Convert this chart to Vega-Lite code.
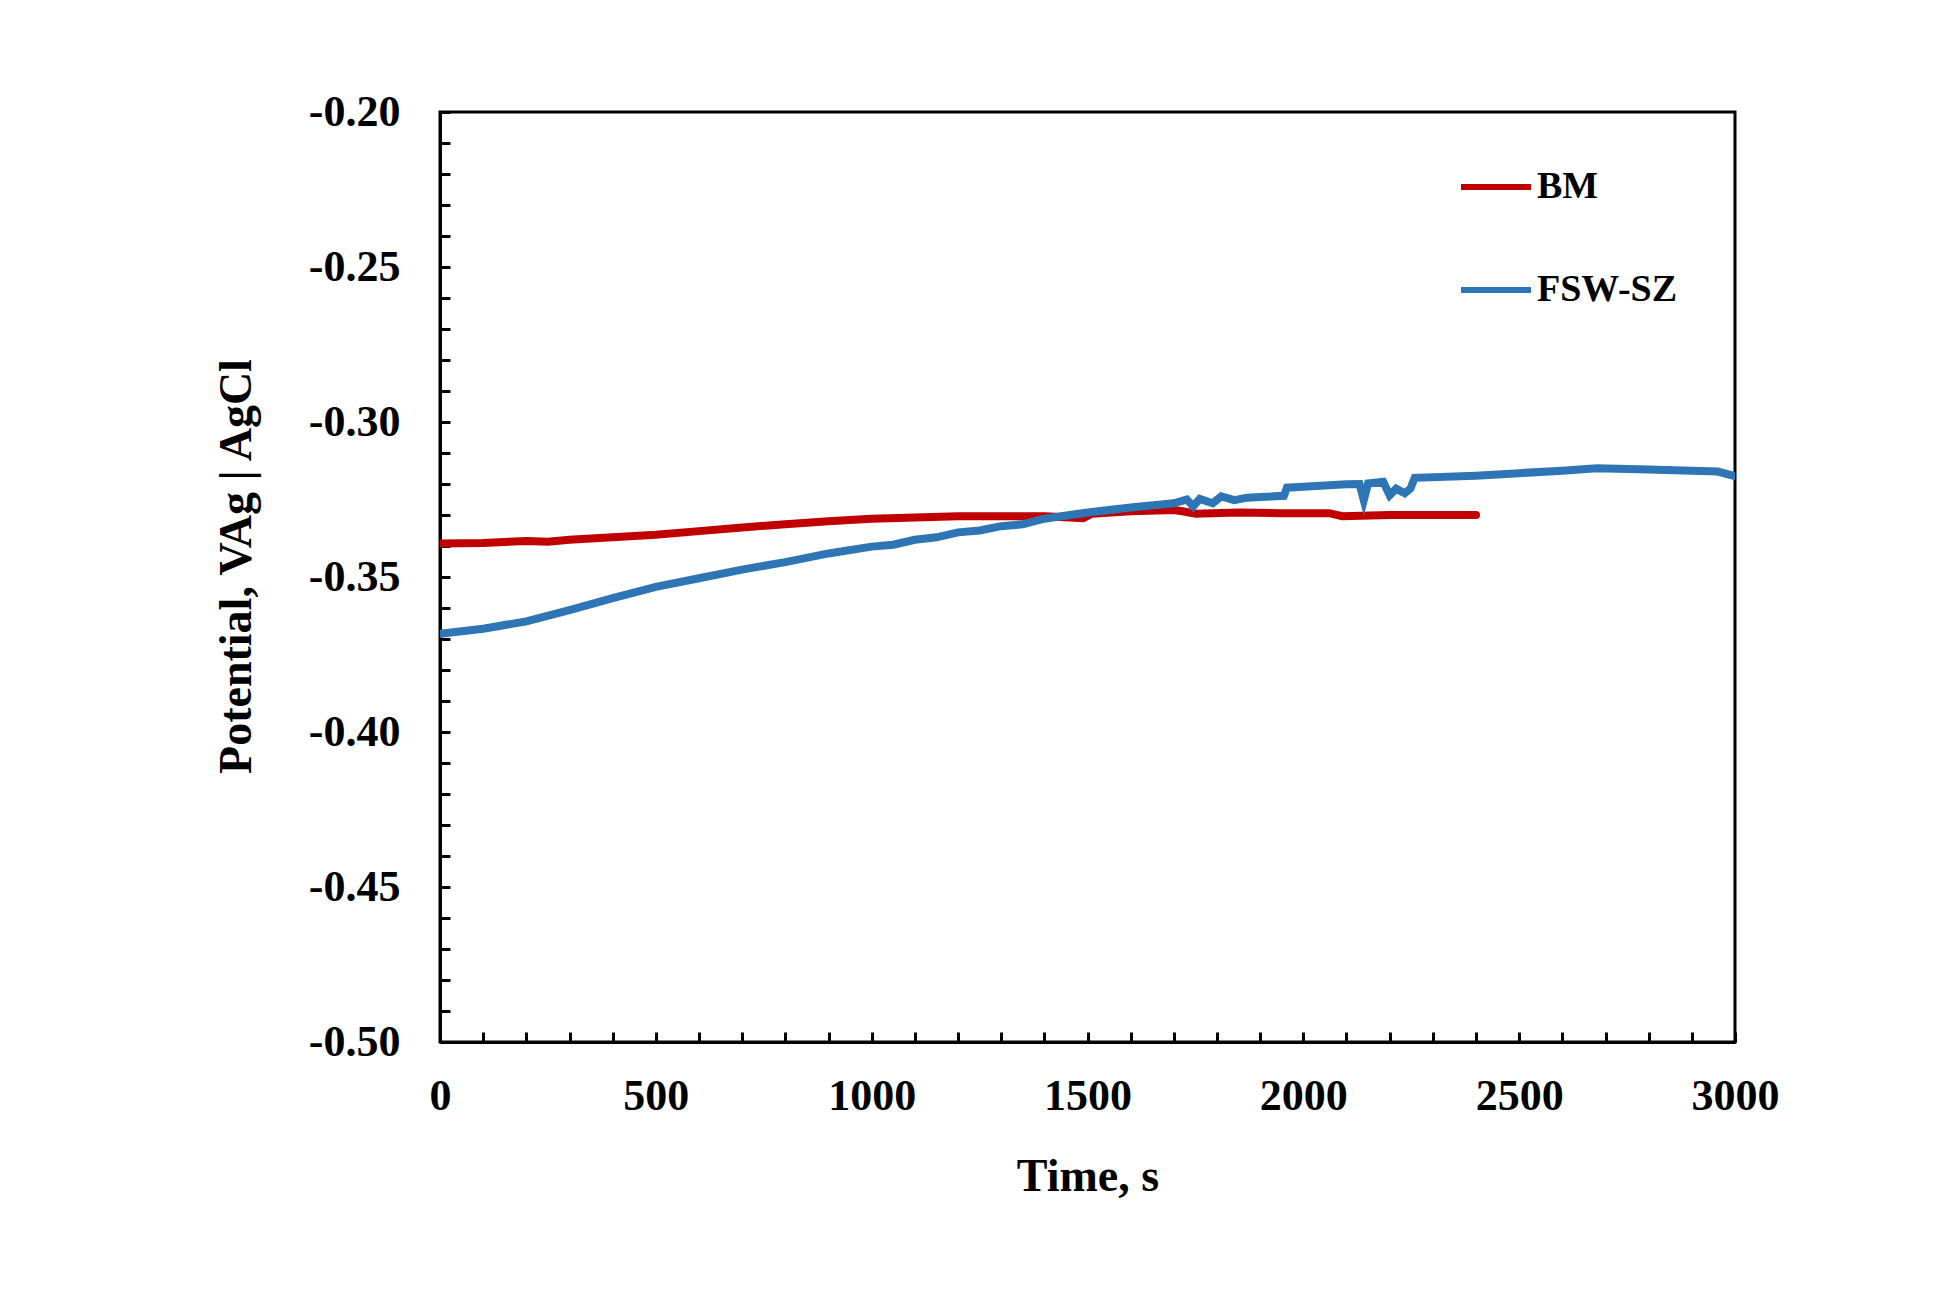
{
  "$schema": "https://vega.github.io/schema/vega-lite/v6.json",
  "width": 1295,
  "height": 930,
  "autosize": {"type": "none"},
  "padding": {"left": 440, "top": 112, "right": 200, "bottom": 252},
  "background": "white",
  "config": {
    "view": {"stroke": "black", "strokeWidth": 3},
    "font": "Liberation Serif",
    "axis": {
      "domainColor": "black", "domainWidth": 3, "tickColor": "black", "tickWidth": 3,
      "grid": false, "labelFont": "Liberation Serif", "labelFontWeight": "bold", "labelFontSize": 44,
      "labelColor": "black", "titleFont": "Liberation Serif", "titleFontWeight": "bold",
      "titleFontSize": 46, "titleColor": "black"
    }
  },
  "data": {"values": [
    {"s":"BM","t":0,"v":-0.3392},{"s":"BM","t":100,"v":-0.3390},{"s":"BM","t":200,"v":-0.3384},{"s":"BM","t":250,"v":-0.3386},{"s":"BM","t":300,"v":-0.3380},{"s":"BM","t":400,"v":-0.3372},{"s":"BM","t":500,"v":-0.3364},{"s":"BM","t":600,"v":-0.3352},{"s":"BM","t":700,"v":-0.3340},{"s":"BM","t":800,"v":-0.3330},{"s":"BM","t":900,"v":-0.3320},{"s":"BM","t":1000,"v":-0.3312},{"s":"BM","t":1100,"v":-0.3308},{"s":"BM","t":1200,"v":-0.3304},{"s":"BM","t":1300,"v":-0.3304},{"s":"BM","t":1400,"v":-0.3304},{"s":"BM","t":1490,"v":-0.3310},{"s":"BM","t":1510,"v":-0.3296},{"s":"BM","t":1600,"v":-0.3288},{"s":"BM","t":1700,"v":-0.3284},{"s":"BM","t":1720,"v":-0.3288},{"s":"BM","t":1750,"v":-0.3296},{"s":"BM","t":1850,"v":-0.3292},{"s":"BM","t":1950,"v":-0.3294},{"s":"BM","t":2060,"v":-0.3294},{"s":"BM","t":2090,"v":-0.3304},{"s":"BM","t":2200,"v":-0.3300},{"s":"BM","t":2300,"v":-0.3300},{"s":"BM","t":2400,"v":-0.3300},
    {"s":"FSW-SZ","t":0,"v":-0.3683},{"s":"FSW-SZ","t":100,"v":-0.3667},{"s":"FSW-SZ","t":200,"v":-0.3643},{"s":"FSW-SZ","t":300,"v":-0.3607},{"s":"FSW-SZ","t":400,"v":-0.3568},{"s":"FSW-SZ","t":500,"v":-0.3532},{"s":"FSW-SZ","t":600,"v":-0.3504},{"s":"FSW-SZ","t":700,"v":-0.3476},{"s":"FSW-SZ","t":800,"v":-0.3452},{"s":"FSW-SZ","t":900,"v":-0.3424},{"s":"FSW-SZ","t":1000,"v":-0.3402},{"s":"FSW-SZ","t":1050,"v":-0.3396},{"s":"FSW-SZ","t":1100,"v":-0.3380},{"s":"FSW-SZ","t":1150,"v":-0.3372},{"s":"FSW-SZ","t":1200,"v":-0.3356},{"s":"FSW-SZ","t":1250,"v":-0.3350},{"s":"FSW-SZ","t":1300,"v":-0.3336},{"s":"FSW-SZ","t":1350,"v":-0.3330},{"s":"FSW-SZ","t":1400,"v":-0.3312},{"s":"FSW-SZ","t":1500,"v":-0.3292},{"s":"FSW-SZ","t":1600,"v":-0.3276},{"s":"FSW-SZ","t":1700,"v":-0.3262},{"s":"FSW-SZ","t":1730,"v":-0.3250},{"s":"FSW-SZ","t":1745,"v":-0.3272},{"s":"FSW-SZ","t":1760,"v":-0.3248},{"s":"FSW-SZ","t":1790,"v":-0.3262},{"s":"FSW-SZ","t":1810,"v":-0.3240},{"s":"FSW-SZ","t":1840,"v":-0.3252},{"s":"FSW-SZ","t":1870,"v":-0.3244},{"s":"FSW-SZ","t":1900,"v":-0.3242},{"s":"FSW-SZ","t":1955,"v":-0.3238},{"s":"FSW-SZ","t":1962,"v":-0.3212},{"s":"FSW-SZ","t":2000,"v":-0.3209},{"s":"FSW-SZ","t":2100,"v":-0.3201},{"s":"FSW-SZ","t":2130,"v":-0.3200},{"s":"FSW-SZ","t":2140,"v":-0.3252},{"s":"FSW-SZ","t":2150,"v":-0.3198},{"s":"FSW-SZ","t":2185,"v":-0.3193},{"s":"FSW-SZ","t":2200,"v":-0.3236},{"s":"FSW-SZ","t":2215,"v":-0.3215},{"s":"FSW-SZ","t":2235,"v":-0.3230},{"s":"FSW-SZ","t":2248,"v":-0.3215},{"s":"FSW-SZ","t":2258,"v":-0.3180},{"s":"FSW-SZ","t":2400,"v":-0.3173},{"s":"FSW-SZ","t":2500,"v":-0.3165},{"s":"FSW-SZ","t":2600,"v":-0.3157},{"s":"FSW-SZ","t":2680,"v":-0.3149},{"s":"FSW-SZ","t":2800,"v":-0.3153},{"s":"FSW-SZ","t":2900,"v":-0.3157},{"s":"FSW-SZ","t":2960,"v":-0.3160},{"s":"FSW-SZ","t":3000,"v":-0.3175}
  ]},
  "mark": {"type": "line", "strokeWidth": 8, "strokeCap": "round", "clip": true},
  "encoding": {
    "x": {"field": "t", "type": "quantitative", "title": "Time, s",
      "scale": {"domain": [0, 3000], "nice": false, "zero": false},
      "axis": {"values": [0,100,200,300,400,500,600,700,800,900,1000,1100,1200,1300,1400,1500,1600,1700,1800,1900,2000,2100,2200,2300,2400,2500,2600,2700,2800,2900,3000],
        "labelExpr": "datum.value % 500 == 0 ? format(datum.value, 'd') : ''",
        "tickSize": -10, "labelPadding": 42, "titlePadding": 36, "labelFlush": false, "labelOverlap": false}},
    "y": {"field": "v", "type": "quantitative", "title": "Potential, VAg | AgCl",
      "scale": {"domain": [-0.5, -0.2], "nice": false, "zero": false},
      "axis": {"values": [-0.5,-0.49,-0.48,-0.47,-0.46,-0.45,-0.44,-0.43,-0.42,-0.41,-0.4,-0.39,-0.38,-0.37,-0.36,-0.35,-0.34,-0.33,-0.32,-0.31,-0.3,-0.29,-0.28,-0.27,-0.26,-0.25,-0.24,-0.23,-0.22,-0.21,-0.2],
        "labelExpr": "abs(round(datum.value*100)) % 5 == 0 ? '-' + format(abs(datum.value), '.2f') : ''",
        "tickSize": -10, "labelPadding": 50, "titlePadding": 48, "titleY": 454, "labelFlush": false, "labelOverlap": false}},
    "color": {"field": "s", "type": "nominal",
      "scale": {"domain": ["BM", "FSW-SZ"], "range": ["#C00000", "#2E75B6"]},
      "legend": {"title": null, "orient": "none", "legendX": 1018, "legendY": 37, "padding": 0,
        "symbolType": "stroke", "symbolSize": 4900, "symbolStrokeWidth": 6,
        "labelFont": "Liberation Serif", "labelFontWeight": "bold", "labelFontSize": 38, "labelColor": "black",
        "labelOffset": 3, "rowPadding": 46}}
  }
}
